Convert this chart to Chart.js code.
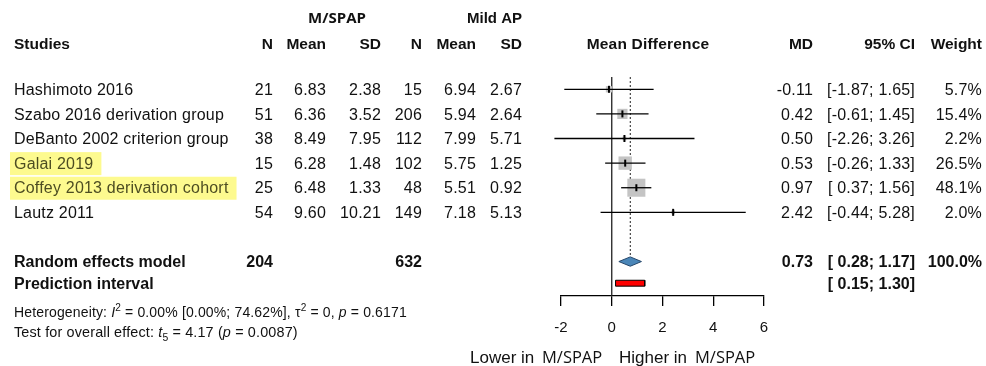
<!DOCTYPE html>
<html>
<head>
<meta charset="utf-8">
<script src="https://cdn.jsdelivr.net/npm/chart.js@4.4.1/dist/chart.umd.min.js"></script>
<style>
  html, body { margin: 0; padding: 0; background: #fff; }
  canvas { display: block; }
</style>
</head>
<body>
<canvas id="forest" width="986" height="366"></canvas>
<script>
// Study-level data
const studies = ['Hashimoto 2016', 'Szabo 2016 derivation group', 'DeBanto 2002 criterion group', 'Galai 2019', 'Coffey 2013 derivation cohort', 'Lautz 2011'];
const highlighted = ['Galai 2019', 'Coffey 2013 derivation cohort'];
const nSpap = [21, 51, 38, 15, 25, 54];
const meanSpap = [6.83, 6.36, 8.49, 6.28, 6.48, 9.60];
const sdSpap = [2.38, 3.52, 7.95, 1.48, 1.33, 10.21];
const nMild = [15, 206, 112, 102, 48, 149];
const meanMild = [6.94, 5.94, 7.99, 5.75, 5.51, 7.18];
const sdMild = [2.67, 2.64, 5.71, 1.25, 0.92, 5.13];
const md = [-0.11, 0.42, 0.50, 0.53, 0.97, 2.42];
const ciLow = [-1.87, -0.61, -2.26, -0.26, 0.37, -0.44];
const ciHigh = [1.65, 1.45, 3.26, 1.33, 1.56, 5.28];
const weight = [5.7, 15.4, 2.2, 26.5, 48.1, 2.0];

// Pooled estimate
const totalSpap = 204;
const totalMild = 632;
const pooledMd = 0.73;
const pooledCi = [0.28, 1.17];
const predInterval = [0.15, 1.30];

const xTicks = [-2, 0, 2, 4, 6];

const SANS = '"Liberation Sans", Arial, sans-serif';
const OPEN = '"Open Sans", "Noto Sans", sans-serif';
const INK = '#111';

const poolRow = 8;
const predRow = 8.88;
const diamondHalf = 0.19;
const predHalf = 0.12;

const rows = studies.map((s, i) => i + 1);

const fmt = v => v.toFixed(2);
const ciText = (lo, hi) => '[' + (lo >= 0 ? ' ' : '') + fmt(lo) + '; ' + fmt(hi) + ']';

const ciLines = studies.map((s, i) => ({
  data: [{ x: ciLow[i], y: rows[i] }, { x: ciHigh[i], y: rows[i] }],
  borderColor: '#000',
  borderWidth: 1.3,
  pointRadius: 0,
  clip: false,
  order: 1,
}));

const datasets = [
  {
    // line of no effect
    data: [{ x: 0, y: 0.5 }, { x: 0, y: 9.4 }],
    borderColor: '#222', borderWidth: 1.3, pointRadius: 0, order: 6,
  },
  {
    // pooled estimate reference
    data: [{ x: pooledMd, y: 0.5 }, { x: pooledMd, y: poolRow - diamondHalf }],
    borderColor: '#222', borderWidth: 1, borderDash: [2, 2], pointRadius: 0, order: 6,
  },
  {
    // study weight boxes, area proportional to weight
    data: studies.map((s, i) => ({ x: md[i], y: rows[i] })),
    showLine: false,
    pointStyle: 'rect',
    pointRadius: weight.map(w => 2.6 * Math.sqrt(w) / Math.SQRT2),
    backgroundColor: '#c4c4c4',
    borderWidth: 0,
    order: 2,
  },
  ...ciLines,
  {
    // point estimate marks
    data: studies.map((s, i) => ({ x: md[i], y: rows[i] })),
    showLine: false,
    pointStyle: 'line',
    rotation: 90,
    pointRadius: 3.5,
    borderColor: '#000',
    borderWidth: 2,
    order: 0,
  },
  {
    // random effects diamond
    data: [
      { x: pooledCi[0], y: poolRow },
      { x: pooledMd, y: poolRow - diamondHalf },
      { x: pooledCi[1], y: poolRow },
      { x: pooledMd, y: poolRow + diamondHalf },
      { x: pooledCi[0], y: poolRow },
    ],
    fill: 'shape',
    backgroundColor: '#4a86b8',
    borderColor: '#24466a',
    borderWidth: 1,
    pointRadius: 0,
    order: 0,
  },
  {
    // prediction interval bar
    data: [
      { x: predInterval[0], y: predRow - predHalf },
      { x: predInterval[1], y: predRow - predHalf },
      { x: predInterval[1], y: predRow + predHalf },
      { x: predInterval[0], y: predRow + predHalf },
      { x: predInterval[0], y: predRow - predHalf },
    ],
    fill: 'shape',
    backgroundColor: '#ff0000',
    borderColor: '#000',
    borderWidth: 1,
    pointRadius: 0,
    order: 0,
  },
];

// text centred on y by its cap height
function put(ctx, str, x, y, align, size, opts = {}) {
  ctx.font = (opts.bold ? 'bold ' : '') + size + 'px ' + (opts.family || SANS);
  ctx.letterSpacing = (opts.spacing ?? (opts.bold ? 0 : 0.2)) + 'px';
  ctx.textAlign = align;
  ctx.textBaseline = 'alphabetic';
  ctx.fillStyle = opts.color || INK;
  ctx.fillText(str, x, y + size * 0.36);
}

// draws a run of text pieces with italics / super- and subscripts
function rich(ctx, parts, x, y, size) {
  ctx.textAlign = 'left';
  ctx.textBaseline = 'alphabetic';
  ctx.fillStyle = INK;
  ctx.letterSpacing = '0.15px';
  for (const p of parts) {
    let sz = size, dy = 0;
    if (p.sup) { sz = size * 0.72; dy = -size * 0.42; }
    if (p.sub) { sz = size * 0.72; dy = size * 0.28; }
    ctx.font = (p.it ? 'italic ' : '') + sz + 'px ' + SANS;
    ctx.fillText(p.t, x, y + size * 0.36 + dy);
    x += ctx.measureText(p.t).width;
  }
}

const col = { name: 14, n1: 273, mean1: 326, sd1: 381, n2: 422, mean2: 476, sd2: 522, plot: 648, md: 813, ci: 915, w: 982 };

const tablePlugin = {
  id: 'forestTable',
  afterDraw(chart) {
    const ctx = chart.ctx;
    const yS = chart.scales.y;
    const B = { bold: true };
    ctx.save();

    // group headers
    put(ctx, 'M/SPAP', 337, 18, 'center', 15, { bold: true, family: OPEN });
    put(ctx, 'Mild AP', col.sd2, 18, 'right', 15, B);

    // column headers
    const hy = 43;
    const hs = 15.5;
    put(ctx, 'Studies', col.name, hy, 'left', hs, B);
    put(ctx, 'N', col.n1, hy, 'right', hs, B);
    put(ctx, 'Mean', col.mean1, hy, 'right', hs, B);
    put(ctx, 'SD', col.sd1, hy, 'right', hs, B);
    put(ctx, 'N', col.n2, hy, 'right', hs, B);
    put(ctx, 'Mean', col.mean2, hy, 'right', hs, B);
    put(ctx, 'SD', col.sd2, hy, 'right', hs, B);
    put(ctx, 'Mean Difference', col.plot, hy, 'center', hs, { bold: true, spacing: 0.2 });
    put(ctx, 'MD', col.md, hy, 'right', hs, B);
    put(ctx, '95% CI', col.ci, hy, 'right', hs, B);
    put(ctx, 'Weight', col.w, hy, 'right', hs, B);

    const bs = 16;
    studies.forEach((s, i) => {
      const y = yS.getPixelForValue(rows[i]);
      const hl = highlighted.includes(s);
      if (hl) {
        ctx.font = bs + 'px ' + SANS;
        ctx.letterSpacing = '0.2px';
        const w = ctx.measureText(s).width;
        ctx.fillStyle = '#fdfa8f';
        ctx.fillRect(10, y - 11, w + 12, 23);
      }
      put(ctx, s, col.name, y, 'left', bs, { color: hl ? '#4d4d22' : INK });
      put(ctx, String(nSpap[i]), col.n1, y, 'right', bs);
      put(ctx, fmt(meanSpap[i]), col.mean1, y, 'right', bs);
      put(ctx, fmt(sdSpap[i]), col.sd1, y, 'right', bs);
      put(ctx, String(nMild[i]), col.n2, y, 'right', bs);
      put(ctx, fmt(meanMild[i]), col.mean2, y, 'right', bs);
      put(ctx, fmt(sdMild[i]), col.sd2, y, 'right', bs);
      put(ctx, fmt(md[i]), col.md, y, 'right', bs);
      put(ctx, ciText(ciLow[i], ciHigh[i]), col.ci, y, 'right', bs);
      put(ctx, weight[i].toFixed(1) + '%', col.w, y, 'right', bs);
    });

    const py = yS.getPixelForValue(poolRow);
    put(ctx, 'Random effects model', col.name, py, 'left', bs, B);
    put(ctx, String(totalSpap), col.n1, py, 'right', bs, B);
    put(ctx, String(totalMild), col.n2, py, 'right', bs, B);
    put(ctx, fmt(pooledMd), col.md, py, 'right', bs, B);
    put(ctx, ciText(pooledCi[0], pooledCi[1]), col.ci, py, 'right', bs, B);
    put(ctx, '100.0%', col.w, py, 'right', bs, B);

    const ry = yS.getPixelForValue(predRow);
    put(ctx, 'Prediction interval', col.name, ry, 'left', bs, B);
    put(ctx, ciText(predInterval[0], predInterval[1]), col.ci, ry, 'right', bs, B);

    rich(ctx, [
      { t: 'Heterogeneity: ' }, { t: 'I', it: true }, { t: '2', sup: true },
      { t: ' = 0.00% [0.00%; 74.62%], ' }, { t: '\u03c4' }, { t: '2', sup: true },
      { t: ' = 0, ' }, { t: 'p', it: true }, { t: ' = 0.6171' },
    ], col.name, 312, 14);
    rich(ctx, [
      { t: 'Test for overall effect: ' }, { t: 't', it: true }, { t: '5', sub: true },
      { t: ' = 4.17 (' }, { t: 'p', it: true }, { t: ' = 0.0087)' },
    ], col.name, 332, 14.4);

    // direction labels under the axis
    const ly = 357;
    put(ctx, 'Lower in', 470, ly, 'left', 17, { spacing: 0 });
    put(ctx, 'M/SPAP', 542, ly, 'left', 16.5, { family: OPEN, spacing: 0 });
    put(ctx, 'Higher in', 619, ly, 'left', 17, { spacing: 0 });
    put(ctx, 'M/SPAP', 695, ly, 'left', 16.5, { family: OPEN, spacing: 0 });

    ctx.restore();
  },
};

new Chart(document.getElementById('forest'), {
  type: 'line',
  data: { datasets },
  options: {
    responsive: false,
    animation: false,
    layout: { padding: { left: 561, right: 222, top: 77, bottom: 0 } },
    plugins: { legend: { display: false }, tooltip: { enabled: false } },
    elements: { line: { tension: 0 } },
    scales: {
      x: {
        type: 'linear',
        min: xTicks[0],
        max: xTicks[xTicks.length - 1],
        afterFit(s) { s.height = 70; },
        afterBuildTicks(s) { s.ticks = xTicks.map(v => ({ value: v })); },
        ticks: { color: INK, font: { family: SANS, size: 15 }, padding: 13, maxRotation: 0 },
        grid: { drawOnChartArea: false, drawTicks: true, tickLength: 10, color: '#000', lineWidth: 1.3 },
        border: { display: true, color: '#000', width: 1.3 },
      },
      y: { type: 'linear', display: false, min: 0.5, max: 9.4, reverse: true },
    },
  },
  plugins: [tablePlugin],
});
</script>
</body>
</html>
